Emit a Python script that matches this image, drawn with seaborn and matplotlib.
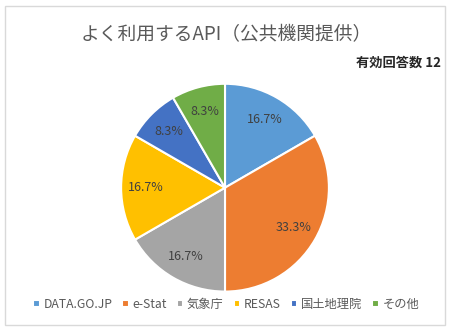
import matplotlib
matplotlib.use("Agg")
import matplotlib.pyplot as plt
import seaborn as sns
from matplotlib.patches import Rectangle

# data
labels = ["DATA.GO.JP", "e-Stat", "気象庁", "RESAS", "国土地理院", "その他"]
counts = [2, 4, 2, 2, 1, 1]
colors = ["#5B9BD5", "#ED7D31", "#A5A5A5", "#FFC000", "#4472C4", "#70AD47"]
title = "よく利用するAPI（公共機関提供）"
note = "有効回答数 12"

sns.set_theme(style="white")
plt.rcParams['font.family'] = ['Noto Sans CJK JP', 'DejaVu Sans']

fig = plt.figure(figsize=(4.52, 3.31), dpi=100)
fig.patch.set_facecolor("white")

# light frame around the chart area
fig.add_artist(Rectangle((0.012, 0.018), 0.973, 0.963, transform=fig.transFigure,
                         fill=False, edgecolor="#D9D9D9", linewidth=1))

ax = fig.add_axes([0.2655, 0.116, 0.4646, 0.634])
palette = sns.color_palette(colors)
wedges, texts, autotexts = ax.pie(
    counts, colors=palette, startangle=90, counterclock=False,
    autopct="%.1f%%", pctdistance=0.76,
    wedgeprops=dict(edgecolor="white", linewidth=1.5),
    textprops=dict(color="#404040", fontsize=9))
ax.set_aspect("equal")
ax.set_xlim(-1.01, 1.01)
ax.set_ylim(-1.01, 1.01)

fig.text(0.5, 0.895, title, ha="center", va="center", fontsize=13.5, color="#595959")
fig.text(0.975, 0.81, note, ha="right", va="center", fontsize=9.5,
         fontweight="bold", color="#262626")

fig.legend(wedges, labels, loc="center", bbox_to_anchor=(0.5, 0.08), ncol=6,
           frameon=False, fontsize=8.8, handlelength=0.55, handleheight=0.55,
           handletextpad=0.3, columnspacing=0.8, labelcolor="#595959")

fig.savefig("out.png", dpi=100)
